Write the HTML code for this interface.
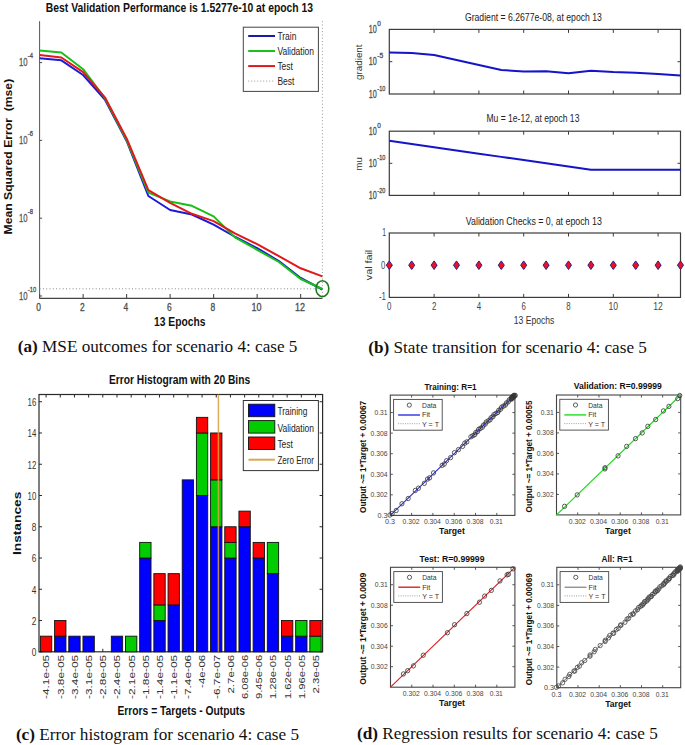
<!DOCTYPE html>
<html><head><meta charset="utf-8"><style>
html,body{margin:0;padding:0;background:#fff;}
body{width:685px;height:745px;overflow:hidden;}
svg{display:block;font-family:"Liberation Sans",sans-serif;}
</style></head><body>
<svg width="685" height="745" viewBox="0 0 685 745">
<rect width="685" height="745" fill="#fff"/>
<text x="45.8" y="12.1" font-size="13.4" fill="#111" font-weight="bold" textLength="267.3" lengthAdjust="spacingAndGlyphs">Best Validation Performance is 1.5277e-10 at epoch 13</text>
<line x1="39.6" y1="21.2" x2="39.6" y2="298.4" stroke="#555" stroke-width="1" />
<line x1="39.6" y1="298.4" x2="322.4" y2="298.4" stroke="#444" stroke-width="1.1" />
<line x1="39.6" y1="298.4" x2="39.6" y2="293.9" stroke="#4a4a4a" stroke-width="1.1" />
<line x1="83.11" y1="298.4" x2="83.11" y2="293.9" stroke="#4a4a4a" stroke-width="1.1" />
<line x1="126.62" y1="298.4" x2="126.62" y2="293.9" stroke="#4a4a4a" stroke-width="1.1" />
<line x1="170.12" y1="298.4" x2="170.12" y2="293.9" stroke="#4a4a4a" stroke-width="1.1" />
<line x1="213.63" y1="298.4" x2="213.63" y2="293.9" stroke="#4a4a4a" stroke-width="1.1" />
<line x1="257.14" y1="298.4" x2="257.14" y2="293.9" stroke="#4a4a4a" stroke-width="1.1" />
<line x1="300.65" y1="298.4" x2="300.65" y2="293.9" stroke="#4a4a4a" stroke-width="1.1" />
<line x1="39.6" y1="62.6" x2="42.1" y2="62.6" stroke="#4a4a4a" stroke-width="1" />
<line x1="39.6" y1="140.4" x2="42.1" y2="140.4" stroke="#4a4a4a" stroke-width="1" />
<line x1="39.6" y1="218.2" x2="42.1" y2="218.2" stroke="#4a4a4a" stroke-width="1" />
<line x1="39.6" y1="296" x2="42.1" y2="296" stroke="#4a4a4a" stroke-width="1" />
<text x="38.7" y="311.1" font-size="10.2" fill="#444" text-anchor="middle" textLength="4.7" lengthAdjust="spacingAndGlyphs" stroke="#555" stroke-width="0.3">0</text>
<text x="82.26" y="311.1" font-size="10.2" fill="#444" text-anchor="middle" textLength="4.7" lengthAdjust="spacingAndGlyphs" stroke="#555" stroke-width="0.3">2</text>
<text x="125.82" y="311.1" font-size="10.2" fill="#444" text-anchor="middle" textLength="4.7" lengthAdjust="spacingAndGlyphs" stroke="#555" stroke-width="0.3">4</text>
<text x="169.38" y="311.1" font-size="10.2" fill="#444" text-anchor="middle" textLength="4.7" lengthAdjust="spacingAndGlyphs" stroke="#555" stroke-width="0.3">6</text>
<text x="212.94" y="311.1" font-size="10.2" fill="#444" text-anchor="middle" textLength="4.7" lengthAdjust="spacingAndGlyphs" stroke="#555" stroke-width="0.3">8</text>
<text x="256.5" y="311.1" font-size="10.2" fill="#444" text-anchor="middle" textLength="10" lengthAdjust="spacingAndGlyphs" stroke="#555" stroke-width="0.3">10</text>
<text x="300.06" y="311.1" font-size="10.2" fill="#444" text-anchor="middle" textLength="10" lengthAdjust="spacingAndGlyphs" stroke="#555" stroke-width="0.3">12</text>
<text x="19" y="65.6" font-size="11.8" fill="#555" textLength="8.6" lengthAdjust="spacingAndGlyphs" stroke="#555" stroke-width="0.3">10</text>
<text x="27.8" y="57.6" font-size="7.2" fill="#444" textLength="5.2" lengthAdjust="spacingAndGlyphs" stroke="#555" stroke-width="0.3">-4</text>
<text x="19" y="143.7" font-size="11.8" fill="#555" textLength="8.6" lengthAdjust="spacingAndGlyphs" stroke="#555" stroke-width="0.3">10</text>
<text x="27.8" y="135.7" font-size="7.2" fill="#444" textLength="5.2" lengthAdjust="spacingAndGlyphs" stroke="#555" stroke-width="0.3">-6</text>
<text x="19" y="221.5" font-size="11.8" fill="#555" textLength="8.6" lengthAdjust="spacingAndGlyphs" stroke="#555" stroke-width="0.3">10</text>
<text x="27.8" y="213.5" font-size="7.2" fill="#444" textLength="5.2" lengthAdjust="spacingAndGlyphs" stroke="#555" stroke-width="0.3">-8</text>
<text x="19" y="299.9" font-size="11.8" fill="#555" textLength="8.6" lengthAdjust="spacingAndGlyphs" stroke="#555" stroke-width="0.3">10</text>
<text x="27.8" y="291.9" font-size="7.2" fill="#444" textLength="8.3" lengthAdjust="spacingAndGlyphs" stroke="#555" stroke-width="0.3">-10</text>
<text transform="translate(11.7 234.5) rotate(-90)" font-size="10.4" fill="#111" font-weight="bold" textLength="155.7" lengthAdjust="spacingAndGlyphs" style="white-space:pre">Mean Squared Error  (mse)</text>
<text x="154" y="325.9" font-size="12.2" fill="#111" font-weight="bold" textLength="51.4" lengthAdjust="spacingAndGlyphs">13 Epochs</text>
<line x1="39.6" y1="288.8" x2="322.4" y2="288.8" stroke="#888" stroke-width="1" stroke-dasharray="1 2.3"/>
<line x1="322.4" y1="21.2" x2="322.4" y2="298.4" stroke="#999" stroke-width="1" stroke-dasharray="1 2.3"/>
<polyline points="39.6,58.3 61.35,60.3 83.11,75 104.86,99.5 126.62,141 148.37,196 170.12,210 191.88,214.5 213.63,224.7 235.38,237 257.14,248.2 278.89,261 300.65,278 322.4,289.5" fill="none" stroke="#1a1ad8" stroke-width="2" stroke-linejoin="round" />
<polyline points="39.6,50.5 61.35,52.5 83.11,69.2 104.86,98 126.62,140 148.37,192.6 170.12,201.4 191.88,205.8 213.63,216.4 235.38,237.7 257.14,249.8 278.89,262 300.65,279 322.4,289" fill="none" stroke="#16c016" stroke-width="2" stroke-linejoin="round" />
<polyline points="39.6,55.1 61.35,57.5 83.11,72.1 104.86,97.3 126.62,138.5 148.37,190.1 170.12,202.8 191.88,213.8 213.63,221.1 235.38,233.7 257.14,244.2 278.89,256.2 300.65,268.3 322.4,276.4" fill="none" stroke="#e01a1a" stroke-width="2" stroke-linejoin="round" />
<ellipse cx="322.4" cy="288.7" rx="6.4" ry="8" fill="none" stroke="#1a7a1a" stroke-width="1.6"/>
<rect x="243.3" y="27.2" width="75.1" height="64.2" fill="#fff" stroke="#444" stroke-width="1" />
<line x1="248.2" y1="36" x2="275" y2="36" stroke="#1a1aa8" stroke-width="2" />
<text x="277.4" y="40.4" font-size="11.8" fill="#222" textLength="19" lengthAdjust="spacingAndGlyphs">Train</text>
<line x1="248.2" y1="51.03" x2="275" y2="51.03" stroke="#16c016" stroke-width="2" />
<text x="277.4" y="55.43" font-size="11.8" fill="#222" textLength="36.6" lengthAdjust="spacingAndGlyphs">Validation</text>
<line x1="248.2" y1="66.06" x2="275" y2="66.06" stroke="#e01a1a" stroke-width="2" />
<text x="277.4" y="70.46" font-size="11.8" fill="#222" textLength="15.5" lengthAdjust="spacingAndGlyphs">Test</text>
<line x1="248.2" y1="81.09" x2="275" y2="81.09" stroke="#999" stroke-width="1" stroke-dasharray="1 2"/>
<text x="277.4" y="85.49" font-size="11.8" fill="#222" textLength="17" lengthAdjust="spacingAndGlyphs">Best</text>
<rect x="389.3" y="29.4" width="291.2" height="64.6" fill="none" stroke="#3c3c3c" stroke-width="1.2" />
<line x1="434.1" y1="29.4" x2="434.1" y2="32.9" stroke="#3c3c3c" stroke-width="1" />
<line x1="434.1" y1="94" x2="434.1" y2="90.5" stroke="#3c3c3c" stroke-width="1" />
<line x1="478.9" y1="29.4" x2="478.9" y2="32.9" stroke="#3c3c3c" stroke-width="1" />
<line x1="478.9" y1="94" x2="478.9" y2="90.5" stroke="#3c3c3c" stroke-width="1" />
<line x1="523.7" y1="29.4" x2="523.7" y2="32.9" stroke="#3c3c3c" stroke-width="1" />
<line x1="523.7" y1="94" x2="523.7" y2="90.5" stroke="#3c3c3c" stroke-width="1" />
<line x1="568.5" y1="29.4" x2="568.5" y2="32.9" stroke="#3c3c3c" stroke-width="1" />
<line x1="568.5" y1="94" x2="568.5" y2="90.5" stroke="#3c3c3c" stroke-width="1" />
<line x1="613.3" y1="29.4" x2="613.3" y2="32.9" stroke="#3c3c3c" stroke-width="1" />
<line x1="613.3" y1="94" x2="613.3" y2="90.5" stroke="#3c3c3c" stroke-width="1" />
<line x1="658.1" y1="29.4" x2="658.1" y2="32.9" stroke="#3c3c3c" stroke-width="1" />
<line x1="658.1" y1="94" x2="658.1" y2="90.5" stroke="#3c3c3c" stroke-width="1" />
<line x1="389.3" y1="61.7" x2="392.3" y2="61.7" stroke="#3c3c3c" stroke-width="1" />
<line x1="680.5" y1="61.7" x2="677.5" y2="61.7" stroke="#3c3c3c" stroke-width="1" />
<rect x="389.3" y="131.2" width="291.2" height="64.2" fill="none" stroke="#3c3c3c" stroke-width="1.2" />
<line x1="434.1" y1="131.2" x2="434.1" y2="134.7" stroke="#3c3c3c" stroke-width="1" />
<line x1="434.1" y1="195.4" x2="434.1" y2="191.9" stroke="#3c3c3c" stroke-width="1" />
<line x1="478.9" y1="131.2" x2="478.9" y2="134.7" stroke="#3c3c3c" stroke-width="1" />
<line x1="478.9" y1="195.4" x2="478.9" y2="191.9" stroke="#3c3c3c" stroke-width="1" />
<line x1="523.7" y1="131.2" x2="523.7" y2="134.7" stroke="#3c3c3c" stroke-width="1" />
<line x1="523.7" y1="195.4" x2="523.7" y2="191.9" stroke="#3c3c3c" stroke-width="1" />
<line x1="568.5" y1="131.2" x2="568.5" y2="134.7" stroke="#3c3c3c" stroke-width="1" />
<line x1="568.5" y1="195.4" x2="568.5" y2="191.9" stroke="#3c3c3c" stroke-width="1" />
<line x1="613.3" y1="131.2" x2="613.3" y2="134.7" stroke="#3c3c3c" stroke-width="1" />
<line x1="613.3" y1="195.4" x2="613.3" y2="191.9" stroke="#3c3c3c" stroke-width="1" />
<line x1="658.1" y1="131.2" x2="658.1" y2="134.7" stroke="#3c3c3c" stroke-width="1" />
<line x1="658.1" y1="195.4" x2="658.1" y2="191.9" stroke="#3c3c3c" stroke-width="1" />
<line x1="389.3" y1="163.3" x2="392.3" y2="163.3" stroke="#3c3c3c" stroke-width="1" />
<line x1="680.5" y1="163.3" x2="677.5" y2="163.3" stroke="#3c3c3c" stroke-width="1" />
<rect x="389.3" y="233" width="291.2" height="64.4" fill="none" stroke="#3c3c3c" stroke-width="1.2" />
<line x1="434.1" y1="233" x2="434.1" y2="236.5" stroke="#3c3c3c" stroke-width="1" />
<line x1="434.1" y1="297.4" x2="434.1" y2="293.9" stroke="#3c3c3c" stroke-width="1" />
<line x1="478.9" y1="233" x2="478.9" y2="236.5" stroke="#3c3c3c" stroke-width="1" />
<line x1="478.9" y1="297.4" x2="478.9" y2="293.9" stroke="#3c3c3c" stroke-width="1" />
<line x1="523.7" y1="233" x2="523.7" y2="236.5" stroke="#3c3c3c" stroke-width="1" />
<line x1="523.7" y1="297.4" x2="523.7" y2="293.9" stroke="#3c3c3c" stroke-width="1" />
<line x1="568.5" y1="233" x2="568.5" y2="236.5" stroke="#3c3c3c" stroke-width="1" />
<line x1="568.5" y1="297.4" x2="568.5" y2="293.9" stroke="#3c3c3c" stroke-width="1" />
<line x1="613.3" y1="233" x2="613.3" y2="236.5" stroke="#3c3c3c" stroke-width="1" />
<line x1="613.3" y1="297.4" x2="613.3" y2="293.9" stroke="#3c3c3c" stroke-width="1" />
<line x1="658.1" y1="233" x2="658.1" y2="236.5" stroke="#3c3c3c" stroke-width="1" />
<line x1="658.1" y1="297.4" x2="658.1" y2="293.9" stroke="#3c3c3c" stroke-width="1" />
<line x1="389.3" y1="265.2" x2="392.3" y2="265.2" stroke="#3c3c3c" stroke-width="1" />
<line x1="680.5" y1="265.2" x2="677.5" y2="265.2" stroke="#3c3c3c" stroke-width="1" />
<text x="464.9" y="21.1" font-size="11.6" fill="#222" textLength="137" lengthAdjust="spacingAndGlyphs">Gradient = 6.2677e-08, at epoch 13</text>
<text x="486.4" y="122.3" font-size="11.6" fill="#222" textLength="93" lengthAdjust="spacingAndGlyphs">Mu = 1e-12, at epoch 13</text>
<text x="465.8" y="224.8" font-size="11.6" fill="#222" textLength="136" lengthAdjust="spacingAndGlyphs">Validation Checks = 0, at epoch 13</text>
<text x="368.8" y="32.8" font-size="10.4" fill="#444" textLength="8" lengthAdjust="spacingAndGlyphs" stroke="#555" stroke-width="0.3">10</text>
<text x="377.3" y="26" font-size="7.4" fill="#444" textLength="3.6" lengthAdjust="spacingAndGlyphs" stroke="#555" stroke-width="0.3">0</text>
<text x="368.8" y="65" font-size="10.4" fill="#444" textLength="8" lengthAdjust="spacingAndGlyphs" stroke="#555" stroke-width="0.3">10</text>
<text x="377.3" y="58.2" font-size="7.4" fill="#444" textLength="6" lengthAdjust="spacingAndGlyphs" stroke="#555" stroke-width="0.3">-5</text>
<text x="368.8" y="97.8" font-size="10.4" fill="#444" textLength="8" lengthAdjust="spacingAndGlyphs" stroke="#555" stroke-width="0.3">10</text>
<text x="377.3" y="91" font-size="7.4" fill="#444" textLength="8" lengthAdjust="spacingAndGlyphs" stroke="#555" stroke-width="0.3">-10</text>
<text x="368.8" y="134.5" font-size="10.4" fill="#444" textLength="8" lengthAdjust="spacingAndGlyphs" stroke="#555" stroke-width="0.3">10</text>
<text x="377.3" y="127.7" font-size="7.4" fill="#444" textLength="3.6" lengthAdjust="spacingAndGlyphs" stroke="#555" stroke-width="0.3">0</text>
<text x="368.8" y="167.2" font-size="10.4" fill="#444" textLength="8" lengthAdjust="spacingAndGlyphs" stroke="#555" stroke-width="0.3">10</text>
<text x="377.3" y="160.4" font-size="7.4" fill="#444" textLength="8" lengthAdjust="spacingAndGlyphs" stroke="#555" stroke-width="0.3">-10</text>
<text x="368.8" y="199.4" font-size="10.4" fill="#444" textLength="8" lengthAdjust="spacingAndGlyphs" stroke="#555" stroke-width="0.3">10</text>
<text x="377.3" y="192.6" font-size="7.4" fill="#444" textLength="8" lengthAdjust="spacingAndGlyphs" stroke="#555" stroke-width="0.3">-20</text>
<text transform="translate(361.5 79.9) rotate(-90)" font-size="8.6" fill="#333" textLength="35.4" lengthAdjust="spacingAndGlyphs">gradient</text>
<text transform="translate(361.5 170.7) rotate(-90)" font-size="8.6" fill="#333" textLength="13.5" lengthAdjust="spacingAndGlyphs">mu</text>
<text transform="translate(371.8 280.2) rotate(-90)" font-size="8.6" fill="#333" textLength="30.4" lengthAdjust="spacingAndGlyphs">val fail</text>
<text x="386" y="236.3" font-size="10.2" fill="#444" text-anchor="end" textLength="3.8" lengthAdjust="spacingAndGlyphs">1</text>
<text x="385.4" y="268.5" font-size="10.2" fill="#444" text-anchor="end" textLength="4.3" lengthAdjust="spacingAndGlyphs">0</text>
<text x="386" y="300.1" font-size="10.2" fill="#444" text-anchor="end" textLength="7" lengthAdjust="spacingAndGlyphs">-1</text>
<text x="389.3" y="310.3" font-size="10.4" fill="#444" text-anchor="middle" textLength="4.4" lengthAdjust="spacingAndGlyphs">0</text>
<text x="434.1" y="310.3" font-size="10.4" fill="#444" text-anchor="middle" textLength="4.4" lengthAdjust="spacingAndGlyphs">2</text>
<text x="478.9" y="310.3" font-size="10.4" fill="#444" text-anchor="middle" textLength="4.4" lengthAdjust="spacingAndGlyphs">4</text>
<text x="523.7" y="310.3" font-size="10.4" fill="#444" text-anchor="middle" textLength="4.4" lengthAdjust="spacingAndGlyphs">6</text>
<text x="568.5" y="310.3" font-size="10.4" fill="#444" text-anchor="middle" textLength="4.4" lengthAdjust="spacingAndGlyphs">8</text>
<text x="613.3" y="310.3" font-size="10.4" fill="#444" text-anchor="middle" textLength="9.6" lengthAdjust="spacingAndGlyphs">10</text>
<text x="658.1" y="310.3" font-size="10.4" fill="#444" text-anchor="middle" textLength="9.6" lengthAdjust="spacingAndGlyphs">12</text>
<text x="513.8" y="323.6" font-size="10.2" fill="#333" textLength="40.5" lengthAdjust="spacingAndGlyphs">13 Epochs</text>
<polyline points="389.3,52.4 411.7,52.9 434.1,55.1 456.5,60 478.9,65 501.3,70 523.7,71.5 546.1,71.2 568.5,73.2 590.9,70.7 613.3,72 635.7,72.7 658.1,74 680.5,75.5" fill="none" stroke="#1414c8" stroke-width="2" stroke-linejoin="round" />
<polyline points="389.3,140.83 411.7,144.04 434.1,147.25 456.5,150.46 478.9,153.67 501.3,156.88 523.7,160.09 546.1,163.3 568.5,166.51 590.9,169.72 613.3,169.72 635.7,169.72 658.1,169.72 680.5,169.72" fill="none" stroke="#1414c8" stroke-width="2" stroke-linejoin="round" />
<path d="M389.3 260.9L392.3 265.2L389.3 269.5L386.3 265.2Z" fill="#ee1020" stroke="#3a1878" stroke-width="1"/>
<path d="M411.7 260.9L414.7 265.2L411.7 269.5L408.7 265.2Z" fill="#ee1020" stroke="#3a1878" stroke-width="1"/>
<path d="M434.1 260.9L437.1 265.2L434.1 269.5L431.1 265.2Z" fill="#ee1020" stroke="#3a1878" stroke-width="1"/>
<path d="M456.5 260.9L459.5 265.2L456.5 269.5L453.5 265.2Z" fill="#ee1020" stroke="#3a1878" stroke-width="1"/>
<path d="M478.9 260.9L481.9 265.2L478.9 269.5L475.9 265.2Z" fill="#ee1020" stroke="#3a1878" stroke-width="1"/>
<path d="M501.3 260.9L504.3 265.2L501.3 269.5L498.3 265.2Z" fill="#ee1020" stroke="#3a1878" stroke-width="1"/>
<path d="M523.7 260.9L526.7 265.2L523.7 269.5L520.7 265.2Z" fill="#ee1020" stroke="#3a1878" stroke-width="1"/>
<path d="M546.1 260.9L549.1 265.2L546.1 269.5L543.1 265.2Z" fill="#ee1020" stroke="#3a1878" stroke-width="1"/>
<path d="M568.5 260.9L571.5 265.2L568.5 269.5L565.5 265.2Z" fill="#ee1020" stroke="#3a1878" stroke-width="1"/>
<path d="M590.9 260.9L593.9 265.2L590.9 269.5L587.9 265.2Z" fill="#ee1020" stroke="#3a1878" stroke-width="1"/>
<path d="M613.3 260.9L616.3 265.2L613.3 269.5L610.3 265.2Z" fill="#ee1020" stroke="#3a1878" stroke-width="1"/>
<path d="M635.7 260.9L638.7 265.2L635.7 269.5L632.7 265.2Z" fill="#ee1020" stroke="#3a1878" stroke-width="1"/>
<path d="M658.1 260.9L661.1 265.2L658.1 269.5L655.1 265.2Z" fill="#ee1020" stroke="#3a1878" stroke-width="1"/>
<path d="M680.5 260.9L683.5 265.2L680.5 269.5L677.5 265.2Z" fill="#ee1020" stroke="#3a1878" stroke-width="1"/>
<rect x="39" y="394.5" width="283.6" height="257.3" fill="none" stroke="#2a2a2a" stroke-width="1.2" />
<text x="108.9" y="383.7" font-size="13" fill="#111" font-weight="bold" textLength="141.3" lengthAdjust="spacingAndGlyphs">Error Histogram with 20 Bins</text>
<line x1="46.09" y1="394.5" x2="46.09" y2="397.5" stroke="#2a2a2a" stroke-width="1" />
<line x1="46.09" y1="651.8" x2="46.09" y2="648.8" stroke="#2a2a2a" stroke-width="1" />
<line x1="60.27" y1="394.5" x2="60.27" y2="397.5" stroke="#2a2a2a" stroke-width="1" />
<line x1="60.27" y1="651.8" x2="60.27" y2="648.8" stroke="#2a2a2a" stroke-width="1" />
<line x1="74.45" y1="394.5" x2="74.45" y2="397.5" stroke="#2a2a2a" stroke-width="1" />
<line x1="74.45" y1="651.8" x2="74.45" y2="648.8" stroke="#2a2a2a" stroke-width="1" />
<line x1="88.63" y1="394.5" x2="88.63" y2="397.5" stroke="#2a2a2a" stroke-width="1" />
<line x1="88.63" y1="651.8" x2="88.63" y2="648.8" stroke="#2a2a2a" stroke-width="1" />
<line x1="102.81" y1="394.5" x2="102.81" y2="397.5" stroke="#2a2a2a" stroke-width="1" />
<line x1="102.81" y1="651.8" x2="102.81" y2="648.8" stroke="#2a2a2a" stroke-width="1" />
<line x1="116.99" y1="394.5" x2="116.99" y2="397.5" stroke="#2a2a2a" stroke-width="1" />
<line x1="116.99" y1="651.8" x2="116.99" y2="648.8" stroke="#2a2a2a" stroke-width="1" />
<line x1="131.17" y1="394.5" x2="131.17" y2="397.5" stroke="#2a2a2a" stroke-width="1" />
<line x1="131.17" y1="651.8" x2="131.17" y2="648.8" stroke="#2a2a2a" stroke-width="1" />
<line x1="145.35" y1="394.5" x2="145.35" y2="397.5" stroke="#2a2a2a" stroke-width="1" />
<line x1="145.35" y1="651.8" x2="145.35" y2="648.8" stroke="#2a2a2a" stroke-width="1" />
<line x1="159.53" y1="394.5" x2="159.53" y2="397.5" stroke="#2a2a2a" stroke-width="1" />
<line x1="159.53" y1="651.8" x2="159.53" y2="648.8" stroke="#2a2a2a" stroke-width="1" />
<line x1="173.71" y1="394.5" x2="173.71" y2="397.5" stroke="#2a2a2a" stroke-width="1" />
<line x1="173.71" y1="651.8" x2="173.71" y2="648.8" stroke="#2a2a2a" stroke-width="1" />
<line x1="187.89" y1="394.5" x2="187.89" y2="397.5" stroke="#2a2a2a" stroke-width="1" />
<line x1="187.89" y1="651.8" x2="187.89" y2="648.8" stroke="#2a2a2a" stroke-width="1" />
<line x1="202.07" y1="394.5" x2="202.07" y2="397.5" stroke="#2a2a2a" stroke-width="1" />
<line x1="202.07" y1="651.8" x2="202.07" y2="648.8" stroke="#2a2a2a" stroke-width="1" />
<line x1="216.25" y1="394.5" x2="216.25" y2="397.5" stroke="#2a2a2a" stroke-width="1" />
<line x1="216.25" y1="651.8" x2="216.25" y2="648.8" stroke="#2a2a2a" stroke-width="1" />
<line x1="230.43" y1="394.5" x2="230.43" y2="397.5" stroke="#2a2a2a" stroke-width="1" />
<line x1="230.43" y1="651.8" x2="230.43" y2="648.8" stroke="#2a2a2a" stroke-width="1" />
<line x1="244.61" y1="394.5" x2="244.61" y2="397.5" stroke="#2a2a2a" stroke-width="1" />
<line x1="244.61" y1="651.8" x2="244.61" y2="648.8" stroke="#2a2a2a" stroke-width="1" />
<line x1="258.79" y1="394.5" x2="258.79" y2="397.5" stroke="#2a2a2a" stroke-width="1" />
<line x1="258.79" y1="651.8" x2="258.79" y2="648.8" stroke="#2a2a2a" stroke-width="1" />
<line x1="272.97" y1="394.5" x2="272.97" y2="397.5" stroke="#2a2a2a" stroke-width="1" />
<line x1="272.97" y1="651.8" x2="272.97" y2="648.8" stroke="#2a2a2a" stroke-width="1" />
<line x1="287.15" y1="394.5" x2="287.15" y2="397.5" stroke="#2a2a2a" stroke-width="1" />
<line x1="287.15" y1="651.8" x2="287.15" y2="648.8" stroke="#2a2a2a" stroke-width="1" />
<line x1="301.33" y1="394.5" x2="301.33" y2="397.5" stroke="#2a2a2a" stroke-width="1" />
<line x1="301.33" y1="651.8" x2="301.33" y2="648.8" stroke="#2a2a2a" stroke-width="1" />
<line x1="315.51" y1="394.5" x2="315.51" y2="397.5" stroke="#2a2a2a" stroke-width="1" />
<line x1="315.51" y1="651.8" x2="315.51" y2="648.8" stroke="#2a2a2a" stroke-width="1" />
<line x1="39" y1="651.8" x2="42" y2="651.8" stroke="#2a2a2a" stroke-width="1" />
<line x1="322.6" y1="651.8" x2="319.6" y2="651.8" stroke="#2a2a2a" stroke-width="1" />
<text x="36.3" y="656.1" font-size="11.8" fill="#333" text-anchor="end" textLength="4.6" lengthAdjust="spacingAndGlyphs">0</text>
<line x1="39" y1="620.54" x2="42" y2="620.54" stroke="#2a2a2a" stroke-width="1" />
<line x1="322.6" y1="620.54" x2="319.6" y2="620.54" stroke="#2a2a2a" stroke-width="1" />
<text x="36.3" y="624.84" font-size="11.8" fill="#333" text-anchor="end" textLength="4.6" lengthAdjust="spacingAndGlyphs">2</text>
<line x1="39" y1="589.28" x2="42" y2="589.28" stroke="#2a2a2a" stroke-width="1" />
<line x1="322.6" y1="589.28" x2="319.6" y2="589.28" stroke="#2a2a2a" stroke-width="1" />
<text x="36.3" y="593.58" font-size="11.8" fill="#333" text-anchor="end" textLength="4.6" lengthAdjust="spacingAndGlyphs">4</text>
<line x1="39" y1="558.02" x2="42" y2="558.02" stroke="#2a2a2a" stroke-width="1" />
<line x1="322.6" y1="558.02" x2="319.6" y2="558.02" stroke="#2a2a2a" stroke-width="1" />
<text x="36.3" y="562.32" font-size="11.8" fill="#333" text-anchor="end" textLength="4.6" lengthAdjust="spacingAndGlyphs">6</text>
<line x1="39" y1="526.76" x2="42" y2="526.76" stroke="#2a2a2a" stroke-width="1" />
<line x1="322.6" y1="526.76" x2="319.6" y2="526.76" stroke="#2a2a2a" stroke-width="1" />
<text x="36.3" y="531.06" font-size="11.8" fill="#333" text-anchor="end" textLength="4.6" lengthAdjust="spacingAndGlyphs">8</text>
<line x1="39" y1="495.5" x2="42" y2="495.5" stroke="#2a2a2a" stroke-width="1" />
<line x1="322.6" y1="495.5" x2="319.6" y2="495.5" stroke="#2a2a2a" stroke-width="1" />
<text x="36.3" y="499.8" font-size="11.8" fill="#333" text-anchor="end" textLength="8.7" lengthAdjust="spacingAndGlyphs">10</text>
<line x1="39" y1="464.24" x2="42" y2="464.24" stroke="#2a2a2a" stroke-width="1" />
<line x1="322.6" y1="464.24" x2="319.6" y2="464.24" stroke="#2a2a2a" stroke-width="1" />
<text x="36.3" y="468.54" font-size="11.8" fill="#333" text-anchor="end" textLength="8.7" lengthAdjust="spacingAndGlyphs">12</text>
<line x1="39" y1="432.98" x2="42" y2="432.98" stroke="#2a2a2a" stroke-width="1" />
<line x1="322.6" y1="432.98" x2="319.6" y2="432.98" stroke="#2a2a2a" stroke-width="1" />
<text x="36.3" y="437.28" font-size="11.8" fill="#333" text-anchor="end" textLength="8.7" lengthAdjust="spacingAndGlyphs">14</text>
<line x1="39" y1="401.72" x2="42" y2="401.72" stroke="#2a2a2a" stroke-width="1" />
<line x1="322.6" y1="401.72" x2="319.6" y2="401.72" stroke="#2a2a2a" stroke-width="1" />
<text x="36.3" y="406.02" font-size="11.8" fill="#333" text-anchor="end" textLength="8.7" lengthAdjust="spacingAndGlyphs">16</text>
<rect x="40.42" y="636.17" width="11.34" height="15.63" fill="#ff0000" stroke="#111" stroke-width="0.9" />
<rect x="54.6" y="636.17" width="11.34" height="15.63" fill="#0000ff" stroke="#111" stroke-width="0.9" />
<rect x="54.6" y="620.54" width="11.34" height="15.63" fill="#ff0000" stroke="#111" stroke-width="0.9" />
<rect x="68.78" y="636.17" width="11.34" height="15.63" fill="#0000ff" stroke="#111" stroke-width="0.9" />
<rect x="82.96" y="636.17" width="11.34" height="15.63" fill="#0000ff" stroke="#111" stroke-width="0.9" />
<rect x="111.32" y="636.17" width="11.34" height="15.63" fill="#0000ff" stroke="#111" stroke-width="0.9" />
<rect x="125.5" y="636.17" width="11.34" height="15.63" fill="#00cc00" stroke="#111" stroke-width="0.9" />
<rect x="139.68" y="558.02" width="11.34" height="93.78" fill="#0000ff" stroke="#111" stroke-width="0.9" />
<rect x="139.68" y="542.39" width="11.34" height="15.63" fill="#00cc00" stroke="#111" stroke-width="0.9" />
<rect x="153.86" y="620.54" width="11.34" height="31.26" fill="#0000ff" stroke="#111" stroke-width="0.9" />
<rect x="153.86" y="604.91" width="11.34" height="15.63" fill="#00cc00" stroke="#111" stroke-width="0.9" />
<rect x="153.86" y="573.65" width="11.34" height="31.26" fill="#ff0000" stroke="#111" stroke-width="0.9" />
<rect x="168.04" y="604.91" width="11.34" height="46.89" fill="#0000ff" stroke="#111" stroke-width="0.9" />
<rect x="168.04" y="573.65" width="11.34" height="31.26" fill="#ff0000" stroke="#111" stroke-width="0.9" />
<rect x="182.22" y="479.87" width="11.34" height="171.93" fill="#0000ff" stroke="#111" stroke-width="0.9" />
<rect x="196.4" y="495.5" width="11.34" height="156.3" fill="#0000ff" stroke="#111" stroke-width="0.9" />
<rect x="196.4" y="432.98" width="11.34" height="62.52" fill="#00cc00" stroke="#111" stroke-width="0.9" />
<rect x="196.4" y="417.35" width="11.34" height="15.63" fill="#ff0000" stroke="#111" stroke-width="0.9" />
<rect x="210.58" y="526.76" width="11.34" height="125.04" fill="#0000ff" stroke="#111" stroke-width="0.9" />
<rect x="210.58" y="479.87" width="11.34" height="46.89" fill="#00cc00" stroke="#111" stroke-width="0.9" />
<rect x="210.58" y="432.98" width="11.34" height="46.89" fill="#ff0000" stroke="#111" stroke-width="0.9" />
<rect x="224.76" y="558.02" width="11.34" height="93.78" fill="#0000ff" stroke="#111" stroke-width="0.9" />
<rect x="224.76" y="542.39" width="11.34" height="15.63" fill="#00cc00" stroke="#111" stroke-width="0.9" />
<rect x="224.76" y="526.76" width="11.34" height="15.63" fill="#ff0000" stroke="#111" stroke-width="0.9" />
<rect x="238.94" y="526.76" width="11.34" height="125.04" fill="#0000ff" stroke="#111" stroke-width="0.9" />
<rect x="238.94" y="511.13" width="11.34" height="15.63" fill="#ff0000" stroke="#111" stroke-width="0.9" />
<rect x="253.12" y="558.02" width="11.34" height="93.78" fill="#0000ff" stroke="#111" stroke-width="0.9" />
<rect x="253.12" y="542.39" width="11.34" height="15.63" fill="#ff0000" stroke="#111" stroke-width="0.9" />
<rect x="267.3" y="573.65" width="11.34" height="78.15" fill="#0000ff" stroke="#111" stroke-width="0.9" />
<rect x="267.3" y="542.39" width="11.34" height="31.26" fill="#00cc00" stroke="#111" stroke-width="0.9" />
<rect x="281.48" y="636.17" width="11.34" height="15.63" fill="#0000ff" stroke="#111" stroke-width="0.9" />
<rect x="281.48" y="620.54" width="11.34" height="15.63" fill="#ff0000" stroke="#111" stroke-width="0.9" />
<rect x="295.66" y="636.17" width="11.34" height="15.63" fill="#0000ff" stroke="#111" stroke-width="0.9" />
<rect x="295.66" y="620.54" width="11.34" height="15.63" fill="#00cc00" stroke="#111" stroke-width="0.9" />
<rect x="309.84" y="636.17" width="11.34" height="15.63" fill="#00cc00" stroke="#111" stroke-width="0.9" />
<rect x="309.84" y="620.54" width="11.34" height="15.63" fill="#ff0000" stroke="#111" stroke-width="0.9" />
<line x1="218.4" y1="394.5" x2="218.4" y2="651.8" stroke="#dba040" stroke-width="1.5" stroke-opacity="0.85"/>
<text transform="translate(49.49 654.8) rotate(-90)" font-size="9.6" fill="#333" text-anchor="end" textLength="44.2" lengthAdjust="spacingAndGlyphs">-4.1e-05</text>
<text transform="translate(63.67 654.8) rotate(-90)" font-size="9.6" fill="#333" text-anchor="end" textLength="44.2" lengthAdjust="spacingAndGlyphs">-3.8e-05</text>
<text transform="translate(77.85 654.8) rotate(-90)" font-size="9.6" fill="#333" text-anchor="end" textLength="44.2" lengthAdjust="spacingAndGlyphs">-3.4e-05</text>
<text transform="translate(92.03 654.8) rotate(-90)" font-size="9.6" fill="#333" text-anchor="end" textLength="44.2" lengthAdjust="spacingAndGlyphs">-3.1e-05</text>
<text transform="translate(106.21 654.8) rotate(-90)" font-size="9.6" fill="#333" text-anchor="end" textLength="44.2" lengthAdjust="spacingAndGlyphs">-2.8e-05</text>
<text transform="translate(120.39 654.8) rotate(-90)" font-size="9.6" fill="#333" text-anchor="end" textLength="44.2" lengthAdjust="spacingAndGlyphs">-2.4e-05</text>
<text transform="translate(134.57 654.8) rotate(-90)" font-size="9.6" fill="#333" text-anchor="end" textLength="44.2" lengthAdjust="spacingAndGlyphs">-2.1e-05</text>
<text transform="translate(148.75 654.8) rotate(-90)" font-size="9.6" fill="#333" text-anchor="end" textLength="44.2" lengthAdjust="spacingAndGlyphs">-1.8e-05</text>
<text transform="translate(162.93 654.8) rotate(-90)" font-size="9.6" fill="#333" text-anchor="end" textLength="44.2" lengthAdjust="spacingAndGlyphs">-1.4e-05</text>
<text transform="translate(177.11 654.8) rotate(-90)" font-size="9.6" fill="#333" text-anchor="end" textLength="44.2" lengthAdjust="spacingAndGlyphs">-1.1e-05</text>
<text transform="translate(191.29 654.8) rotate(-90)" font-size="9.6" fill="#333" text-anchor="end" textLength="44.2" lengthAdjust="spacingAndGlyphs">-7.4e-06</text>
<text transform="translate(205.47 654.8) rotate(-90)" font-size="9.6" fill="#333" text-anchor="end" textLength="33.15" lengthAdjust="spacingAndGlyphs">-4e-06</text>
<text transform="translate(219.65 654.8) rotate(-90)" font-size="9.6" fill="#333" text-anchor="end" textLength="44.2" lengthAdjust="spacingAndGlyphs">-6.7e-07</text>
<text transform="translate(233.83 654.8) rotate(-90)" font-size="9.6" fill="#333" text-anchor="end" textLength="38.68" lengthAdjust="spacingAndGlyphs">2.7e-06</text>
<text transform="translate(248.01 654.8) rotate(-90)" font-size="9.6" fill="#333" text-anchor="end" textLength="44.2" lengthAdjust="spacingAndGlyphs">6.08e-06</text>
<text transform="translate(262.19 654.8) rotate(-90)" font-size="9.6" fill="#333" text-anchor="end" textLength="44.2" lengthAdjust="spacingAndGlyphs">9.45e-06</text>
<text transform="translate(276.37 654.8) rotate(-90)" font-size="9.6" fill="#333" text-anchor="end" textLength="44.2" lengthAdjust="spacingAndGlyphs">1.28e-05</text>
<text transform="translate(290.55 654.8) rotate(-90)" font-size="9.6" fill="#333" text-anchor="end" textLength="44.2" lengthAdjust="spacingAndGlyphs">1.62e-05</text>
<text transform="translate(304.73 654.8) rotate(-90)" font-size="9.6" fill="#333" text-anchor="end" textLength="44.2" lengthAdjust="spacingAndGlyphs">1.96e-05</text>
<text transform="translate(318.91 654.8) rotate(-90)" font-size="9.6" fill="#333" text-anchor="end" textLength="38.68" lengthAdjust="spacingAndGlyphs">2.3e-05</text>
<text transform="translate(20.9 555.1) rotate(-90)" font-size="10.2" fill="#111" font-weight="bold" textLength="63.5" lengthAdjust="spacingAndGlyphs">Instances</text>
<text x="117.5" y="715" font-size="12" fill="#111" font-weight="bold" textLength="127.4" lengthAdjust="spacingAndGlyphs">Errors = Targets - Outputs</text>
<rect x="243.3" y="400.5" width="75.1" height="70.1" fill="#fff" stroke="#333" stroke-width="1" />
<rect x="248.5" y="404.2" width="26.3" height="12.5" fill="#0000ff" stroke="#111" stroke-width="0.9" />
<text x="277.4" y="415.4" font-size="11.6" fill="#222" textLength="30" lengthAdjust="spacingAndGlyphs">Training</text>
<rect x="248.5" y="420.6" width="26.3" height="12.5" fill="#00cc00" stroke="#111" stroke-width="0.9" />
<text x="277.4" y="431.8" font-size="11.6" fill="#222" textLength="36.6" lengthAdjust="spacingAndGlyphs">Validation</text>
<rect x="248.5" y="437" width="26.3" height="12.5" fill="#ff0000" stroke="#111" stroke-width="0.9" />
<text x="277.4" y="448.2" font-size="11.6" fill="#222" textLength="15.5" lengthAdjust="spacingAndGlyphs">Test</text>
<line x1="248.5" y1="459.7" x2="274.8" y2="459.7" stroke="#dba650" stroke-width="2" />
<text x="277.4" y="463.9" font-size="11.6" fill="#222" textLength="36.6" lengthAdjust="spacingAndGlyphs">Zero Error</text>
<rect x="390.3" y="395.1" width="124.6" height="120.3" fill="none" stroke="#444" stroke-width="1.1" />
<line x1="411.6" y1="515.4" x2="411.6" y2="512.9" stroke="#444" stroke-width="0.9" />
<line x1="411.6" y1="395.1" x2="411.6" y2="397.6" stroke="#444" stroke-width="0.9" />
<line x1="390.3" y1="494.84" x2="392.8" y2="494.84" stroke="#444" stroke-width="0.9" />
<line x1="514.9" y1="494.84" x2="512.4" y2="494.84" stroke="#444" stroke-width="0.9" />
<line x1="432.9" y1="515.4" x2="432.9" y2="512.9" stroke="#444" stroke-width="0.9" />
<line x1="432.9" y1="395.1" x2="432.9" y2="397.6" stroke="#444" stroke-width="0.9" />
<line x1="390.3" y1="474.27" x2="392.8" y2="474.27" stroke="#444" stroke-width="0.9" />
<line x1="514.9" y1="474.27" x2="512.4" y2="474.27" stroke="#444" stroke-width="0.9" />
<line x1="454.2" y1="515.4" x2="454.2" y2="512.9" stroke="#444" stroke-width="0.9" />
<line x1="454.2" y1="395.1" x2="454.2" y2="397.6" stroke="#444" stroke-width="0.9" />
<line x1="390.3" y1="453.71" x2="392.8" y2="453.71" stroke="#444" stroke-width="0.9" />
<line x1="514.9" y1="453.71" x2="512.4" y2="453.71" stroke="#444" stroke-width="0.9" />
<line x1="475.5" y1="515.4" x2="475.5" y2="512.9" stroke="#444" stroke-width="0.9" />
<line x1="475.5" y1="395.1" x2="475.5" y2="397.6" stroke="#444" stroke-width="0.9" />
<line x1="390.3" y1="433.14" x2="392.8" y2="433.14" stroke="#444" stroke-width="0.9" />
<line x1="514.9" y1="433.14" x2="512.4" y2="433.14" stroke="#444" stroke-width="0.9" />
<line x1="496.8" y1="515.4" x2="496.8" y2="512.9" stroke="#444" stroke-width="0.9" />
<line x1="496.8" y1="395.1" x2="496.8" y2="397.6" stroke="#444" stroke-width="0.9" />
<line x1="390.3" y1="412.58" x2="392.8" y2="412.58" stroke="#444" stroke-width="0.9" />
<line x1="514.9" y1="412.58" x2="512.4" y2="412.58" stroke="#444" stroke-width="0.9" />
<text x="387.5" y="497.24" font-size="7.2" fill="#444" text-anchor="end" textLength="17" lengthAdjust="spacingAndGlyphs">0.302</text>
<text x="411.1" y="524.4" font-size="7.2" fill="#444" text-anchor="middle" textLength="17" lengthAdjust="spacingAndGlyphs">0.302</text>
<text x="387.5" y="476.67" font-size="7.2" fill="#444" text-anchor="end" textLength="17" lengthAdjust="spacingAndGlyphs">0.304</text>
<text x="432.4" y="524.4" font-size="7.2" fill="#444" text-anchor="middle" textLength="17" lengthAdjust="spacingAndGlyphs">0.304</text>
<text x="387.5" y="456.11" font-size="7.2" fill="#444" text-anchor="end" textLength="17" lengthAdjust="spacingAndGlyphs">0.306</text>
<text x="453.7" y="524.4" font-size="7.2" fill="#444" text-anchor="middle" textLength="17" lengthAdjust="spacingAndGlyphs">0.306</text>
<text x="387.5" y="435.54" font-size="7.2" fill="#444" text-anchor="end" textLength="17" lengthAdjust="spacingAndGlyphs">0.308</text>
<text x="475" y="524.4" font-size="7.2" fill="#444" text-anchor="middle" textLength="17" lengthAdjust="spacingAndGlyphs">0.308</text>
<text x="387.5" y="414.98" font-size="7.2" fill="#444" text-anchor="end" textLength="13" lengthAdjust="spacingAndGlyphs">0.31</text>
<text x="496.3" y="524.4" font-size="7.2" fill="#444" text-anchor="middle" textLength="13" lengthAdjust="spacingAndGlyphs">0.31</text>
<text x="387.5" y="517.8" font-size="7.2" fill="#444" text-anchor="end" textLength="10" lengthAdjust="spacingAndGlyphs">0.3</text>
<text x="390" y="524.4" font-size="7.2" fill="#444" text-anchor="middle" textLength="10" lengthAdjust="spacingAndGlyphs">0.3</text>
<line x1="390.3" y1="515.4" x2="514.9" y2="395.1" stroke="#888" stroke-width="0.8" stroke-dasharray="1 1.5"/>
<line x1="390.3" y1="515.4" x2="514.9" y2="395.1" stroke="#3030e0" stroke-width="1.1" />
<ellipse cx="389.9" cy="515" rx="2.1" ry="2.2" fill="none" stroke="#333" stroke-width="0.8"/>
<ellipse cx="392.17" cy="513.6" rx="2.1" ry="2.2" fill="none" stroke="#333" stroke-width="0.8"/>
<ellipse cx="396.18" cy="510.51" rx="2.1" ry="2.2" fill="none" stroke="#333" stroke-width="0.8"/>
<ellipse cx="401.94" cy="503.77" rx="2.1" ry="2.2" fill="none" stroke="#333" stroke-width="0.8"/>
<ellipse cx="408.19" cy="498.52" rx="2.1" ry="2.2" fill="none" stroke="#333" stroke-width="0.8"/>
<ellipse cx="415.32" cy="490.46" rx="2.1" ry="2.2" fill="none" stroke="#333" stroke-width="0.8"/>
<ellipse cx="418.46" cy="488.21" rx="2.1" ry="2.2" fill="none" stroke="#333" stroke-width="0.8"/>
<ellipse cx="424.34" cy="483.32" rx="2.1" ry="2.2" fill="none" stroke="#333" stroke-width="0.8"/>
<ellipse cx="427.48" cy="479.11" rx="2.1" ry="2.2" fill="none" stroke="#333" stroke-width="0.8"/>
<ellipse cx="429.62" cy="477.83" rx="2.1" ry="2.2" fill="none" stroke="#333" stroke-width="0.8"/>
<ellipse cx="433.51" cy="472.9" rx="2.1" ry="2.2" fill="none" stroke="#333" stroke-width="0.8"/>
<ellipse cx="442.13" cy="465.36" rx="2.1" ry="2.2" fill="none" stroke="#333" stroke-width="0.8"/>
<ellipse cx="444.28" cy="464.07" rx="2.1" ry="2.2" fill="none" stroke="#333" stroke-width="0.8"/>
<ellipse cx="446.54" cy="460.7" rx="2.1" ry="2.2" fill="none" stroke="#333" stroke-width="0.8"/>
<ellipse cx="450.56" cy="457.62" rx="2.1" ry="2.2" fill="none" stroke="#333" stroke-width="0.8"/>
<ellipse cx="454.44" cy="452.68" rx="2.1" ry="2.2" fill="none" stroke="#333" stroke-width="0.8"/>
<ellipse cx="458.46" cy="449.6" rx="2.1" ry="2.2" fill="none" stroke="#333" stroke-width="0.8"/>
<ellipse cx="462.59" cy="446.39" rx="2.1" ry="2.2" fill="none" stroke="#333" stroke-width="0.8"/>
<ellipse cx="464.74" cy="443.14" rx="2.1" ry="2.2" fill="none" stroke="#333" stroke-width="0.8"/>
<ellipse cx="466.88" cy="441.86" rx="2.1" ry="2.2" fill="none" stroke="#333" stroke-width="0.8"/>
<ellipse cx="470.89" cy="436.81" rx="2.1" ry="2.2" fill="none" stroke="#333" stroke-width="0.8"/>
<ellipse cx="472.82" cy="435.72" rx="2.1" ry="2.2" fill="none" stroke="#333" stroke-width="0.8"/>
<ellipse cx="474.76" cy="434.64" rx="2.1" ry="2.2" fill="none" stroke="#333" stroke-width="0.8"/>
<ellipse cx="475.69" cy="432.56" rx="2.1" ry="2.2" fill="none" stroke="#333" stroke-width="0.8"/>
<ellipse cx="477.62" cy="431.48" rx="2.1" ry="2.2" fill="none" stroke="#333" stroke-width="0.8"/>
<ellipse cx="478.56" cy="429.4" rx="2.1" ry="2.2" fill="none" stroke="#333" stroke-width="0.8"/>
<ellipse cx="480.49" cy="428.32" rx="2.1" ry="2.2" fill="none" stroke="#333" stroke-width="0.8"/>
<ellipse cx="482.42" cy="427.24" rx="2.1" ry="2.2" fill="none" stroke="#333" stroke-width="0.8"/>
<ellipse cx="483.36" cy="425.16" rx="2.1" ry="2.2" fill="none" stroke="#333" stroke-width="0.8"/>
<ellipse cx="485.29" cy="424.08" rx="2.1" ry="2.2" fill="none" stroke="#333" stroke-width="0.8"/>
<ellipse cx="486.23" cy="422" rx="2.1" ry="2.2" fill="none" stroke="#333" stroke-width="0.8"/>
<ellipse cx="488.16" cy="420.92" rx="2.1" ry="2.2" fill="none" stroke="#333" stroke-width="0.8"/>
<ellipse cx="490.09" cy="419.84" rx="2.1" ry="2.2" fill="none" stroke="#333" stroke-width="0.8"/>
<ellipse cx="491.03" cy="417.76" rx="2.1" ry="2.2" fill="none" stroke="#333" stroke-width="0.8"/>
<ellipse cx="492.96" cy="416.68" rx="2.1" ry="2.2" fill="none" stroke="#333" stroke-width="0.8"/>
<ellipse cx="493.89" cy="414.6" rx="2.1" ry="2.2" fill="none" stroke="#333" stroke-width="0.8"/>
<ellipse cx="495.83" cy="413.52" rx="2.1" ry="2.2" fill="none" stroke="#333" stroke-width="0.8"/>
<ellipse cx="497.76" cy="412.43" rx="2.1" ry="2.2" fill="none" stroke="#333" stroke-width="0.8"/>
<ellipse cx="498.69" cy="410.35" rx="2.1" ry="2.2" fill="none" stroke="#333" stroke-width="0.8"/>
<ellipse cx="500.63" cy="409.27" rx="2.1" ry="2.2" fill="none" stroke="#333" stroke-width="0.8"/>
<ellipse cx="501.56" cy="407.19" rx="2.1" ry="2.2" fill="none" stroke="#333" stroke-width="0.8"/>
<ellipse cx="503.49" cy="406.11" rx="2.1" ry="2.2" fill="none" stroke="#333" stroke-width="0.8"/>
<ellipse cx="505.43" cy="405.03" rx="2.1" ry="2.2" fill="none" stroke="#333" stroke-width="0.8"/>
<ellipse cx="506.36" cy="402.95" rx="2.1" ry="2.2" fill="none" stroke="#333" stroke-width="0.8"/>
<ellipse cx="508.29" cy="401.87" rx="2.1" ry="2.2" fill="none" stroke="#333" stroke-width="0.8"/>
<ellipse cx="509.23" cy="399.79" rx="2.1" ry="2.2" fill="none" stroke="#333" stroke-width="0.8"/>
<ellipse cx="511.16" cy="398.71" rx="2.1" ry="2.2" fill="none" stroke="#333" stroke-width="0.8"/>
<ellipse cx="511.56" cy="399.11" rx="2.1" ry="2.2" fill="none" stroke="#333" stroke-width="0.8"/>
<ellipse cx="511.34" cy="398.15" rx="2.1" ry="2.2" fill="none" stroke="#333" stroke-width="0.8"/>
<ellipse cx="512.11" cy="398.19" rx="2.1" ry="2.2" fill="none" stroke="#333" stroke-width="0.8"/>
<ellipse cx="511.88" cy="397.23" rx="2.1" ry="2.2" fill="none" stroke="#333" stroke-width="0.8"/>
<ellipse cx="512.66" cy="397.27" rx="2.1" ry="2.2" fill="none" stroke="#333" stroke-width="0.8"/>
<ellipse cx="513.43" cy="397.3" rx="2.1" ry="2.2" fill="none" stroke="#333" stroke-width="0.8"/>
<ellipse cx="513.2" cy="396.34" rx="2.1" ry="2.2" fill="none" stroke="#333" stroke-width="0.8"/>
<ellipse cx="513.98" cy="396.38" rx="2.1" ry="2.2" fill="none" stroke="#333" stroke-width="0.8"/>
<ellipse cx="513.75" cy="395.42" rx="2.1" ry="2.2" fill="none" stroke="#333" stroke-width="0.8"/>
<ellipse cx="514.53" cy="395.46" rx="2.1" ry="2.2" fill="none" stroke="#333" stroke-width="0.8"/>
<ellipse cx="515.3" cy="395.5" rx="2.1" ry="2.2" fill="none" stroke="#333" stroke-width="0.8"/>
<text x="424.5" y="389.5" font-size="8.8" fill="#111" font-weight="bold" textLength="52" lengthAdjust="spacingAndGlyphs">Training: R=1</text>
<text x="451.9" y="534.4" font-size="9.4" fill="#111" font-weight="bold" text-anchor="middle" textLength="25.8" lengthAdjust="spacingAndGlyphs">Target</text>
<text transform="translate(365.8 512.9) rotate(-90)" font-size="8.6" fill="#111" font-weight="bold" textLength="112" lengthAdjust="spacingAndGlyphs">Output ~= 1*Target + 0.00067</text>
<rect x="393.6" y="399.4" width="48.6" height="30.8" fill="#fff" stroke="#444" stroke-width="0.9" />
<circle cx="409.3" cy="405.1" r="2.1" fill="none" stroke="#333" stroke-width="0.8"/>
<text x="422" y="407.8" font-size="7.4" fill="#333" textLength="14.3" lengthAdjust="spacingAndGlyphs">Data</text>
<line x1="398.1" y1="415" x2="420" y2="415" stroke="#3030e0" stroke-width="1.4" />
<text x="422" y="417.3" font-size="7.4" fill="#333" textLength="8" lengthAdjust="spacingAndGlyphs">Fit</text>
<line x1="398.1" y1="423.7" x2="420" y2="423.7" stroke="#888" stroke-width="0.8" stroke-dasharray="1 1.3"/>
<text x="422" y="426.8" font-size="7.4" fill="#333" textLength="17" lengthAdjust="spacingAndGlyphs">Y = T</text>
<rect x="556.5" y="395" width="124.2" height="119.9" fill="none" stroke="#444" stroke-width="1.1" />
<line x1="577.73" y1="514.9" x2="577.73" y2="512.4" stroke="#444" stroke-width="0.9" />
<line x1="577.73" y1="395" x2="577.73" y2="397.5" stroke="#444" stroke-width="0.9" />
<line x1="556.5" y1="494.4" x2="559" y2="494.4" stroke="#444" stroke-width="0.9" />
<line x1="680.7" y1="494.4" x2="678.2" y2="494.4" stroke="#444" stroke-width="0.9" />
<line x1="598.96" y1="514.9" x2="598.96" y2="512.4" stroke="#444" stroke-width="0.9" />
<line x1="598.96" y1="395" x2="598.96" y2="397.5" stroke="#444" stroke-width="0.9" />
<line x1="556.5" y1="473.91" x2="559" y2="473.91" stroke="#444" stroke-width="0.9" />
<line x1="680.7" y1="473.91" x2="678.2" y2="473.91" stroke="#444" stroke-width="0.9" />
<line x1="620.19" y1="514.9" x2="620.19" y2="512.4" stroke="#444" stroke-width="0.9" />
<line x1="620.19" y1="395" x2="620.19" y2="397.5" stroke="#444" stroke-width="0.9" />
<line x1="556.5" y1="453.41" x2="559" y2="453.41" stroke="#444" stroke-width="0.9" />
<line x1="680.7" y1="453.41" x2="678.2" y2="453.41" stroke="#444" stroke-width="0.9" />
<line x1="641.42" y1="514.9" x2="641.42" y2="512.4" stroke="#444" stroke-width="0.9" />
<line x1="641.42" y1="395" x2="641.42" y2="397.5" stroke="#444" stroke-width="0.9" />
<line x1="556.5" y1="432.92" x2="559" y2="432.92" stroke="#444" stroke-width="0.9" />
<line x1="680.7" y1="432.92" x2="678.2" y2="432.92" stroke="#444" stroke-width="0.9" />
<line x1="662.65" y1="514.9" x2="662.65" y2="512.4" stroke="#444" stroke-width="0.9" />
<line x1="662.65" y1="395" x2="662.65" y2="397.5" stroke="#444" stroke-width="0.9" />
<line x1="556.5" y1="412.42" x2="559" y2="412.42" stroke="#444" stroke-width="0.9" />
<line x1="680.7" y1="412.42" x2="678.2" y2="412.42" stroke="#444" stroke-width="0.9" />
<text x="553.7" y="496.8" font-size="7.2" fill="#444" text-anchor="end" textLength="17" lengthAdjust="spacingAndGlyphs">0.302</text>
<text x="577.23" y="523.9" font-size="7.2" fill="#444" text-anchor="middle" textLength="17" lengthAdjust="spacingAndGlyphs">0.302</text>
<text x="553.7" y="476.31" font-size="7.2" fill="#444" text-anchor="end" textLength="17" lengthAdjust="spacingAndGlyphs">0.304</text>
<text x="598.46" y="523.9" font-size="7.2" fill="#444" text-anchor="middle" textLength="17" lengthAdjust="spacingAndGlyphs">0.304</text>
<text x="553.7" y="455.81" font-size="7.2" fill="#444" text-anchor="end" textLength="17" lengthAdjust="spacingAndGlyphs">0.306</text>
<text x="619.69" y="523.9" font-size="7.2" fill="#444" text-anchor="middle" textLength="17" lengthAdjust="spacingAndGlyphs">0.306</text>
<text x="553.7" y="435.32" font-size="7.2" fill="#444" text-anchor="end" textLength="17" lengthAdjust="spacingAndGlyphs">0.308</text>
<text x="640.92" y="523.9" font-size="7.2" fill="#444" text-anchor="middle" textLength="17" lengthAdjust="spacingAndGlyphs">0.308</text>
<text x="553.7" y="414.82" font-size="7.2" fill="#444" text-anchor="end" textLength="13" lengthAdjust="spacingAndGlyphs">0.31</text>
<text x="662.15" y="523.9" font-size="7.2" fill="#444" text-anchor="middle" textLength="13" lengthAdjust="spacingAndGlyphs">0.31</text>
<line x1="556.5" y1="514.9" x2="680.7" y2="395" stroke="#888" stroke-width="0.8" stroke-dasharray="1 1.5"/>
<line x1="556.5" y1="514.9" x2="680.7" y2="395" stroke="#20dd20" stroke-width="1.1" />
<ellipse cx="564.55" cy="506.35" rx="2.1" ry="2.2" fill="none" stroke="#333" stroke-width="0.8"/>
<ellipse cx="577.24" cy="494.88" rx="2.1" ry="2.2" fill="none" stroke="#333" stroke-width="0.8"/>
<ellipse cx="604.97" cy="468.9" rx="2.1" ry="2.2" fill="none" stroke="#333" stroke-width="0.8"/>
<ellipse cx="604.99" cy="467.7" rx="2.1" ry="2.2" fill="none" stroke="#333" stroke-width="0.8"/>
<ellipse cx="618.05" cy="455.87" rx="2.1" ry="2.2" fill="none" stroke="#333" stroke-width="0.8"/>
<ellipse cx="626.65" cy="446.4" rx="2.1" ry="2.2" fill="none" stroke="#333" stroke-width="0.8"/>
<ellipse cx="635.49" cy="438.64" rx="2.1" ry="2.2" fill="none" stroke="#333" stroke-width="0.8"/>
<ellipse cx="642.23" cy="432.93" rx="2.1" ry="2.2" fill="none" stroke="#333" stroke-width="0.8"/>
<ellipse cx="647.84" cy="426.33" rx="2.1" ry="2.2" fill="none" stroke="#333" stroke-width="0.8"/>
<ellipse cx="655.69" cy="419.54" rx="2.1" ry="2.2" fill="none" stroke="#333" stroke-width="0.8"/>
<ellipse cx="663.41" cy="410.91" rx="2.1" ry="2.2" fill="none" stroke="#333" stroke-width="0.8"/>
<ellipse cx="668.9" cy="406.39" rx="2.1" ry="2.2" fill="none" stroke="#333" stroke-width="0.8"/>
<ellipse cx="677.75" cy="398.64" rx="2.1" ry="2.2" fill="none" stroke="#333" stroke-width="0.8"/>
<ellipse cx="679.75" cy="395.52" rx="2.1" ry="2.2" fill="none" stroke="#333" stroke-width="0.8"/>
<text x="573.8" y="389.4" font-size="8.8" fill="#111" font-weight="bold" textLength="88" lengthAdjust="spacingAndGlyphs">Validation: R=0.99999</text>
<text x="617.9" y="533.9" font-size="9.4" fill="#111" font-weight="bold" text-anchor="middle" textLength="25.8" lengthAdjust="spacingAndGlyphs">Target</text>
<text transform="translate(532 512.4) rotate(-90)" font-size="8.6" fill="#111" font-weight="bold" textLength="112" lengthAdjust="spacingAndGlyphs">Output ~= 1*Target + 0.00055</text>
<rect x="559.8" y="399.3" width="48.6" height="30.8" fill="#fff" stroke="#444" stroke-width="0.9" />
<circle cx="575.5" cy="405" r="2.1" fill="none" stroke="#333" stroke-width="0.8"/>
<text x="588.2" y="407.7" font-size="7.4" fill="#333" textLength="14.3" lengthAdjust="spacingAndGlyphs">Data</text>
<line x1="564.3" y1="414.9" x2="586.2" y2="414.9" stroke="#20dd20" stroke-width="1.4" />
<text x="588.2" y="417.2" font-size="7.4" fill="#333" textLength="8" lengthAdjust="spacingAndGlyphs">Fit</text>
<line x1="564.3" y1="423.6" x2="586.2" y2="423.6" stroke="#888" stroke-width="0.8" stroke-dasharray="1 1.3"/>
<text x="588.2" y="426.7" font-size="7.4" fill="#333" textLength="17" lengthAdjust="spacingAndGlyphs">Y = T</text>
<rect x="390.5" y="567.3" width="124.4" height="119.9" fill="none" stroke="#444" stroke-width="1.1" />
<line x1="411.76" y1="687.2" x2="411.76" y2="684.7" stroke="#444" stroke-width="0.9" />
<line x1="411.76" y1="567.3" x2="411.76" y2="569.8" stroke="#444" stroke-width="0.9" />
<line x1="390.5" y1="666.7" x2="393" y2="666.7" stroke="#444" stroke-width="0.9" />
<line x1="514.9" y1="666.7" x2="512.4" y2="666.7" stroke="#444" stroke-width="0.9" />
<line x1="433.03" y1="687.2" x2="433.03" y2="684.7" stroke="#444" stroke-width="0.9" />
<line x1="433.03" y1="567.3" x2="433.03" y2="569.8" stroke="#444" stroke-width="0.9" />
<line x1="390.5" y1="646.21" x2="393" y2="646.21" stroke="#444" stroke-width="0.9" />
<line x1="514.9" y1="646.21" x2="512.4" y2="646.21" stroke="#444" stroke-width="0.9" />
<line x1="454.29" y1="687.2" x2="454.29" y2="684.7" stroke="#444" stroke-width="0.9" />
<line x1="454.29" y1="567.3" x2="454.29" y2="569.8" stroke="#444" stroke-width="0.9" />
<line x1="390.5" y1="625.71" x2="393" y2="625.71" stroke="#444" stroke-width="0.9" />
<line x1="514.9" y1="625.71" x2="512.4" y2="625.71" stroke="#444" stroke-width="0.9" />
<line x1="475.56" y1="687.2" x2="475.56" y2="684.7" stroke="#444" stroke-width="0.9" />
<line x1="475.56" y1="567.3" x2="475.56" y2="569.8" stroke="#444" stroke-width="0.9" />
<line x1="390.5" y1="605.22" x2="393" y2="605.22" stroke="#444" stroke-width="0.9" />
<line x1="514.9" y1="605.22" x2="512.4" y2="605.22" stroke="#444" stroke-width="0.9" />
<line x1="496.82" y1="687.2" x2="496.82" y2="684.7" stroke="#444" stroke-width="0.9" />
<line x1="496.82" y1="567.3" x2="496.82" y2="569.8" stroke="#444" stroke-width="0.9" />
<line x1="390.5" y1="584.72" x2="393" y2="584.72" stroke="#444" stroke-width="0.9" />
<line x1="514.9" y1="584.72" x2="512.4" y2="584.72" stroke="#444" stroke-width="0.9" />
<text x="387.7" y="669.1" font-size="7.2" fill="#444" text-anchor="end" textLength="17" lengthAdjust="spacingAndGlyphs">0.302</text>
<text x="411.26" y="696.2" font-size="7.2" fill="#444" text-anchor="middle" textLength="17" lengthAdjust="spacingAndGlyphs">0.302</text>
<text x="387.7" y="648.61" font-size="7.2" fill="#444" text-anchor="end" textLength="17" lengthAdjust="spacingAndGlyphs">0.304</text>
<text x="432.53" y="696.2" font-size="7.2" fill="#444" text-anchor="middle" textLength="17" lengthAdjust="spacingAndGlyphs">0.304</text>
<text x="387.7" y="628.11" font-size="7.2" fill="#444" text-anchor="end" textLength="17" lengthAdjust="spacingAndGlyphs">0.306</text>
<text x="453.79" y="696.2" font-size="7.2" fill="#444" text-anchor="middle" textLength="17" lengthAdjust="spacingAndGlyphs">0.306</text>
<text x="387.7" y="607.62" font-size="7.2" fill="#444" text-anchor="end" textLength="17" lengthAdjust="spacingAndGlyphs">0.308</text>
<text x="475.06" y="696.2" font-size="7.2" fill="#444" text-anchor="middle" textLength="17" lengthAdjust="spacingAndGlyphs">0.308</text>
<text x="387.7" y="587.12" font-size="7.2" fill="#444" text-anchor="end" textLength="13" lengthAdjust="spacingAndGlyphs">0.31</text>
<text x="496.32" y="696.2" font-size="7.2" fill="#444" text-anchor="middle" textLength="13" lengthAdjust="spacingAndGlyphs">0.31</text>
<line x1="390.5" y1="687.2" x2="514.9" y2="567.3" stroke="#888" stroke-width="0.8" stroke-dasharray="1 1.5"/>
<line x1="390.5" y1="687.2" x2="514.9" y2="567.3" stroke="#dd2020" stroke-width="1.1" />
<ellipse cx="403.41" cy="673.97" rx="2.1" ry="2.2" fill="none" stroke="#333" stroke-width="0.8"/>
<ellipse cx="407.67" cy="670.65" rx="2.1" ry="2.2" fill="none" stroke="#333" stroke-width="0.8"/>
<ellipse cx="413.42" cy="665.9" rx="2.1" ry="2.2" fill="none" stroke="#333" stroke-width="0.8"/>
<ellipse cx="423.27" cy="655.23" rx="2.1" ry="2.2" fill="none" stroke="#333" stroke-width="0.8"/>
<ellipse cx="447.43" cy="632.73" rx="2.1" ry="2.2" fill="none" stroke="#333" stroke-width="0.8"/>
<ellipse cx="454.54" cy="624.69" rx="2.1" ry="2.2" fill="none" stroke="#333" stroke-width="0.8"/>
<ellipse cx="466.88" cy="613.58" rx="2.1" ry="2.2" fill="none" stroke="#333" stroke-width="0.8"/>
<ellipse cx="479.47" cy="602.23" rx="2.1" ry="2.2" fill="none" stroke="#333" stroke-width="0.8"/>
<ellipse cx="484.6" cy="596.12" rx="2.1" ry="2.2" fill="none" stroke="#333" stroke-width="0.8"/>
<ellipse cx="491.34" cy="590.4" rx="2.1" ry="2.2" fill="none" stroke="#333" stroke-width="0.8"/>
<ellipse cx="499.95" cy="580.93" rx="2.1" ry="2.2" fill="none" stroke="#333" stroke-width="0.8"/>
<ellipse cx="507.06" cy="574.85" rx="2.1" ry="2.2" fill="none" stroke="#333" stroke-width="0.8"/>
<ellipse cx="508.46" cy="574.29" rx="2.1" ry="2.2" fill="none" stroke="#333" stroke-width="0.8"/>
<ellipse cx="512.96" cy="568.78" rx="2.1" ry="2.2" fill="none" stroke="#333" stroke-width="0.8"/>
<text x="419.5" y="561.7" font-size="8.8" fill="#111" font-weight="bold" textLength="65" lengthAdjust="spacingAndGlyphs">Test: R=0.99999</text>
<text x="452" y="706.2" font-size="9.4" fill="#111" font-weight="bold" text-anchor="middle" textLength="25.8" lengthAdjust="spacingAndGlyphs">Target</text>
<text transform="translate(366 684.7) rotate(-90)" font-size="8.6" fill="#111" font-weight="bold" textLength="112" lengthAdjust="spacingAndGlyphs">Output ~= 1*Target + 0.0009</text>
<rect x="393.8" y="571.6" width="48.6" height="30.8" fill="#fff" stroke="#444" stroke-width="0.9" />
<circle cx="409.5" cy="577.3" r="2.1" fill="none" stroke="#333" stroke-width="0.8"/>
<text x="422.2" y="580" font-size="7.4" fill="#333" textLength="14.3" lengthAdjust="spacingAndGlyphs">Data</text>
<line x1="398.3" y1="587.2" x2="420.2" y2="587.2" stroke="#dd2020" stroke-width="1.4" />
<text x="422.2" y="589.5" font-size="7.4" fill="#333" textLength="8" lengthAdjust="spacingAndGlyphs">Fit</text>
<line x1="398.3" y1="595.9" x2="420.2" y2="595.9" stroke="#888" stroke-width="0.8" stroke-dasharray="1 1.3"/>
<text x="422.2" y="599" font-size="7.4" fill="#333" textLength="17" lengthAdjust="spacingAndGlyphs">Y = T</text>
<rect x="556.8" y="567.3" width="123.9" height="120.4" fill="none" stroke="#444" stroke-width="1.1" />
<line x1="577.98" y1="687.7" x2="577.98" y2="685.2" stroke="#444" stroke-width="0.9" />
<line x1="577.98" y1="567.3" x2="577.98" y2="569.8" stroke="#444" stroke-width="0.9" />
<line x1="556.8" y1="667.12" x2="559.3" y2="667.12" stroke="#444" stroke-width="0.9" />
<line x1="680.7" y1="667.12" x2="678.2" y2="667.12" stroke="#444" stroke-width="0.9" />
<line x1="599.16" y1="687.7" x2="599.16" y2="685.2" stroke="#444" stroke-width="0.9" />
<line x1="599.16" y1="567.3" x2="599.16" y2="569.8" stroke="#444" stroke-width="0.9" />
<line x1="556.8" y1="646.54" x2="559.3" y2="646.54" stroke="#444" stroke-width="0.9" />
<line x1="680.7" y1="646.54" x2="678.2" y2="646.54" stroke="#444" stroke-width="0.9" />
<line x1="620.34" y1="687.7" x2="620.34" y2="685.2" stroke="#444" stroke-width="0.9" />
<line x1="620.34" y1="567.3" x2="620.34" y2="569.8" stroke="#444" stroke-width="0.9" />
<line x1="556.8" y1="625.96" x2="559.3" y2="625.96" stroke="#444" stroke-width="0.9" />
<line x1="680.7" y1="625.96" x2="678.2" y2="625.96" stroke="#444" stroke-width="0.9" />
<line x1="641.52" y1="687.7" x2="641.52" y2="685.2" stroke="#444" stroke-width="0.9" />
<line x1="641.52" y1="567.3" x2="641.52" y2="569.8" stroke="#444" stroke-width="0.9" />
<line x1="556.8" y1="605.38" x2="559.3" y2="605.38" stroke="#444" stroke-width="0.9" />
<line x1="680.7" y1="605.38" x2="678.2" y2="605.38" stroke="#444" stroke-width="0.9" />
<line x1="662.7" y1="687.7" x2="662.7" y2="685.2" stroke="#444" stroke-width="0.9" />
<line x1="662.7" y1="567.3" x2="662.7" y2="569.8" stroke="#444" stroke-width="0.9" />
<line x1="556.8" y1="584.79" x2="559.3" y2="584.79" stroke="#444" stroke-width="0.9" />
<line x1="680.7" y1="584.79" x2="678.2" y2="584.79" stroke="#444" stroke-width="0.9" />
<text x="554" y="669.52" font-size="7.2" fill="#444" text-anchor="end" textLength="17" lengthAdjust="spacingAndGlyphs">0.302</text>
<text x="577.48" y="696.7" font-size="7.2" fill="#444" text-anchor="middle" textLength="17" lengthAdjust="spacingAndGlyphs">0.302</text>
<text x="554" y="648.94" font-size="7.2" fill="#444" text-anchor="end" textLength="17" lengthAdjust="spacingAndGlyphs">0.304</text>
<text x="598.66" y="696.7" font-size="7.2" fill="#444" text-anchor="middle" textLength="17" lengthAdjust="spacingAndGlyphs">0.304</text>
<text x="554" y="628.36" font-size="7.2" fill="#444" text-anchor="end" textLength="17" lengthAdjust="spacingAndGlyphs">0.306</text>
<text x="619.84" y="696.7" font-size="7.2" fill="#444" text-anchor="middle" textLength="17" lengthAdjust="spacingAndGlyphs">0.306</text>
<text x="554" y="607.78" font-size="7.2" fill="#444" text-anchor="end" textLength="17" lengthAdjust="spacingAndGlyphs">0.308</text>
<text x="641.02" y="696.7" font-size="7.2" fill="#444" text-anchor="middle" textLength="17" lengthAdjust="spacingAndGlyphs">0.308</text>
<text x="554" y="587.19" font-size="7.2" fill="#444" text-anchor="end" textLength="13" lengthAdjust="spacingAndGlyphs">0.31</text>
<text x="662.2" y="696.7" font-size="7.2" fill="#444" text-anchor="middle" textLength="13" lengthAdjust="spacingAndGlyphs">0.31</text>
<text x="554" y="690.1" font-size="7.2" fill="#444" text-anchor="end" textLength="10" lengthAdjust="spacingAndGlyphs">0.3</text>
<text x="556.5" y="696.7" font-size="7.2" fill="#444" text-anchor="middle" textLength="10" lengthAdjust="spacingAndGlyphs">0.3</text>
<line x1="556.8" y1="687.7" x2="680.7" y2="567.3" stroke="#888" stroke-width="0.8" stroke-dasharray="1 1.5"/>
<line x1="556.8" y1="687.7" x2="680.7" y2="567.3" stroke="#555555" stroke-width="0.8" />
<ellipse cx="556.4" cy="687.3" rx="2.1" ry="2.2" fill="none" stroke="#444" stroke-width="0.8"/>
<ellipse cx="558.66" cy="685.89" rx="2.1" ry="2.2" fill="none" stroke="#444" stroke-width="0.8"/>
<ellipse cx="562.65" cy="682.8" rx="2.1" ry="2.2" fill="none" stroke="#444" stroke-width="0.8"/>
<ellipse cx="565.03" cy="679.31" rx="2.1" ry="2.2" fill="none" stroke="#444" stroke-width="0.8"/>
<ellipse cx="568.77" cy="676.46" rx="2.1" ry="2.2" fill="none" stroke="#444" stroke-width="0.8"/>
<ellipse cx="569.66" cy="674.42" rx="2.1" ry="2.2" fill="none" stroke="#444" stroke-width="0.8"/>
<ellipse cx="573.9" cy="671.08" rx="2.1" ry="2.2" fill="none" stroke="#444" stroke-width="0.8"/>
<ellipse cx="574.79" cy="671" rx="2.1" ry="2.2" fill="none" stroke="#444" stroke-width="0.8"/>
<ellipse cx="577.29" cy="667.39" rx="2.1" ry="2.2" fill="none" stroke="#444" stroke-width="0.8"/>
<ellipse cx="579.43" cy="666.11" rx="2.1" ry="2.2" fill="none" stroke="#444" stroke-width="0.8"/>
<ellipse cx="581.68" cy="662.74" rx="2.1" ry="2.2" fill="none" stroke="#444" stroke-width="0.8"/>
<ellipse cx="584.8" cy="660.49" rx="2.1" ry="2.2" fill="none" stroke="#444" stroke-width="0.8"/>
<ellipse cx="590.03" cy="656.19" rx="2.1" ry="2.2" fill="none" stroke="#444" stroke-width="0.8"/>
<ellipse cx="590.05" cy="654.99" rx="2.1" ry="2.2" fill="none" stroke="#444" stroke-width="0.8"/>
<ellipse cx="594.17" cy="651.78" rx="2.1" ry="2.2" fill="none" stroke="#444" stroke-width="0.8"/>
<ellipse cx="595.3" cy="649.49" rx="2.1" ry="2.2" fill="none" stroke="#444" stroke-width="0.8"/>
<ellipse cx="600.16" cy="645.56" rx="2.1" ry="2.2" fill="none" stroke="#444" stroke-width="0.8"/>
<ellipse cx="605.15" cy="641.51" rx="2.1" ry="2.2" fill="none" stroke="#444" stroke-width="0.8"/>
<ellipse cx="605.17" cy="640.3" rx="2.1" ry="2.2" fill="none" stroke="#444" stroke-width="0.8"/>
<ellipse cx="608.54" cy="637.81" rx="2.1" ry="2.2" fill="none" stroke="#444" stroke-width="0.8"/>
<ellipse cx="609.68" cy="635.53" rx="2.1" ry="2.2" fill="none" stroke="#444" stroke-width="0.8"/>
<ellipse cx="612.93" cy="633.16" rx="2.1" ry="2.2" fill="none" stroke="#444" stroke-width="0.8"/>
<ellipse cx="613.7" cy="633.2" rx="2.1" ry="2.2" fill="none" stroke="#444" stroke-width="0.8"/>
<ellipse cx="616.32" cy="629.47" rx="2.1" ry="2.2" fill="none" stroke="#444" stroke-width="0.8"/>
<ellipse cx="618.21" cy="628.42" rx="2.1" ry="2.2" fill="none" stroke="#444" stroke-width="0.8"/>
<ellipse cx="620.58" cy="624.93" rx="2.1" ry="2.2" fill="none" stroke="#444" stroke-width="0.8"/>
<ellipse cx="620.98" cy="625.33" rx="2.1" ry="2.2" fill="none" stroke="#444" stroke-width="0.8"/>
<ellipse cx="624.97" cy="622.24" rx="2.1" ry="2.2" fill="none" stroke="#444" stroke-width="0.8"/>
<ellipse cx="626.98" cy="619.11" rx="2.1" ry="2.2" fill="none" stroke="#444" stroke-width="0.8"/>
<ellipse cx="628.49" cy="618.43" rx="2.1" ry="2.2" fill="none" stroke="#444" stroke-width="0.8"/>
<ellipse cx="630.62" cy="615.18" rx="2.1" ry="2.2" fill="none" stroke="#444" stroke-width="0.8"/>
<ellipse cx="632.75" cy="613.89" rx="2.1" ry="2.2" fill="none" stroke="#444" stroke-width="0.8"/>
<ellipse cx="633.27" cy="614.17" rx="2.1" ry="2.2" fill="none" stroke="#444" stroke-width="0.8"/>
<ellipse cx="635.4" cy="610.93" rx="2.1" ry="2.2" fill="none" stroke="#444" stroke-width="0.8"/>
<ellipse cx="637.54" cy="609.64" rx="2.1" ry="2.2" fill="none" stroke="#444" stroke-width="0.8"/>
<ellipse cx="638.46" cy="607.56" rx="2.1" ry="2.2" fill="none" stroke="#444" stroke-width="0.8"/>
<ellipse cx="640.38" cy="606.48" rx="2.1" ry="2.2" fill="none" stroke="#444" stroke-width="0.8"/>
<ellipse cx="642.31" cy="605.39" rx="2.1" ry="2.2" fill="none" stroke="#444" stroke-width="0.8"/>
<ellipse cx="641.72" cy="604.79" rx="2.1" ry="2.2" fill="none" stroke="#444" stroke-width="0.8"/>
<ellipse cx="643.63" cy="603.71" rx="2.1" ry="2.2" fill="none" stroke="#444" stroke-width="0.8"/>
<ellipse cx="644.56" cy="601.63" rx="2.1" ry="2.2" fill="none" stroke="#444" stroke-width="0.8"/>
<ellipse cx="645.02" cy="601.98" rx="2.1" ry="2.2" fill="none" stroke="#444" stroke-width="0.8"/>
<ellipse cx="646.88" cy="600.95" rx="2.1" ry="2.2" fill="none" stroke="#444" stroke-width="0.8"/>
<ellipse cx="647.81" cy="598.87" rx="2.1" ry="2.2" fill="none" stroke="#444" stroke-width="0.8"/>
<ellipse cx="648.31" cy="599.17" rx="2.1" ry="2.2" fill="none" stroke="#444" stroke-width="0.8"/>
<ellipse cx="649.13" cy="597.19" rx="2.1" ry="2.2" fill="none" stroke="#444" stroke-width="0.8"/>
<ellipse cx="650.72" cy="596.44" rx="2.1" ry="2.2" fill="none" stroke="#444" stroke-width="0.8"/>
<ellipse cx="651.46" cy="596.5" rx="2.1" ry="2.2" fill="none" stroke="#444" stroke-width="0.8"/>
<ellipse cx="652.38" cy="594.42" rx="2.1" ry="2.2" fill="none" stroke="#444" stroke-width="0.8"/>
<ellipse cx="654.31" cy="593.34" rx="2.1" ry="2.2" fill="none" stroke="#444" stroke-width="0.8"/>
<ellipse cx="655.15" cy="591.34" rx="2.1" ry="2.2" fill="none" stroke="#444" stroke-width="0.8"/>
<ellipse cx="655.63" cy="591.66" rx="2.1" ry="2.2" fill="none" stroke="#444" stroke-width="0.8"/>
<ellipse cx="657.44" cy="590.7" rx="2.1" ry="2.2" fill="none" stroke="#444" stroke-width="0.8"/>
<ellipse cx="656.96" cy="589.98" rx="2.1" ry="2.2" fill="none" stroke="#444" stroke-width="0.8"/>
<ellipse cx="658.88" cy="588.89" rx="2.1" ry="2.2" fill="none" stroke="#444" stroke-width="0.8"/>
<ellipse cx="659.81" cy="586.81" rx="2.1" ry="2.2" fill="none" stroke="#444" stroke-width="0.8"/>
<ellipse cx="661.73" cy="585.73" rx="2.1" ry="2.2" fill="none" stroke="#444" stroke-width="0.8"/>
<ellipse cx="663.66" cy="584.65" rx="2.1" ry="2.2" fill="none" stroke="#444" stroke-width="0.8"/>
<ellipse cx="663.65" cy="583.47" rx="2.1" ry="2.2" fill="none" stroke="#444" stroke-width="0.8"/>
<ellipse cx="664.98" cy="582.97" rx="2.1" ry="2.2" fill="none" stroke="#444" stroke-width="0.8"/>
<ellipse cx="665.8" cy="580.99" rx="2.1" ry="2.2" fill="none" stroke="#444" stroke-width="0.8"/>
<ellipse cx="666.31" cy="581.28" rx="2.1" ry="2.2" fill="none" stroke="#444" stroke-width="0.8"/>
<ellipse cx="668.23" cy="580.2" rx="2.1" ry="2.2" fill="none" stroke="#444" stroke-width="0.8"/>
<ellipse cx="668.73" cy="578.54" rx="2.1" ry="2.2" fill="none" stroke="#444" stroke-width="0.8"/>
<ellipse cx="669.56" cy="578.52" rx="2.1" ry="2.2" fill="none" stroke="#444" stroke-width="0.8"/>
<ellipse cx="670.48" cy="576.44" rx="2.1" ry="2.2" fill="none" stroke="#444" stroke-width="0.8"/>
<ellipse cx="672.41" cy="575.36" rx="2.1" ry="2.2" fill="none" stroke="#444" stroke-width="0.8"/>
<ellipse cx="673.29" cy="575.29" rx="2.1" ry="2.2" fill="none" stroke="#444" stroke-width="0.8"/>
<ellipse cx="673.69" cy="573.72" rx="2.1" ry="2.2" fill="none" stroke="#444" stroke-width="0.8"/>
<ellipse cx="674.13" cy="574.08" rx="2.1" ry="2.2" fill="none" stroke="#444" stroke-width="0.8"/>
<ellipse cx="675.06" cy="571.99" rx="2.1" ry="2.2" fill="none" stroke="#444" stroke-width="0.8"/>
<ellipse cx="676.98" cy="570.91" rx="2.1" ry="2.2" fill="none" stroke="#444" stroke-width="0.8"/>
<ellipse cx="677.38" cy="571.31" rx="2.1" ry="2.2" fill="none" stroke="#444" stroke-width="0.8"/>
<ellipse cx="677.15" cy="570.35" rx="2.1" ry="2.2" fill="none" stroke="#444" stroke-width="0.8"/>
<ellipse cx="677.55" cy="570.75" rx="2.1" ry="2.2" fill="none" stroke="#444" stroke-width="0.8"/>
<ellipse cx="677.33" cy="569.79" rx="2.1" ry="2.2" fill="none" stroke="#444" stroke-width="0.8"/>
<ellipse cx="678.1" cy="569.83" rx="2.1" ry="2.2" fill="none" stroke="#444" stroke-width="0.8"/>
<ellipse cx="678.87" cy="569.87" rx="2.1" ry="2.2" fill="none" stroke="#444" stroke-width="0.8"/>
<ellipse cx="678.64" cy="568.91" rx="2.1" ry="2.2" fill="none" stroke="#444" stroke-width="0.8"/>
<ellipse cx="679.17" cy="569.19" rx="2.1" ry="2.2" fill="none" stroke="#444" stroke-width="0.8"/>
<ellipse cx="678.81" cy="568.34" rx="2.1" ry="2.2" fill="none" stroke="#444" stroke-width="0.8"/>
<ellipse cx="679.58" cy="568.38" rx="2.1" ry="2.2" fill="none" stroke="#444" stroke-width="0.8"/>
<ellipse cx="680.36" cy="568.42" rx="2.1" ry="2.2" fill="none" stroke="#444" stroke-width="0.8"/>
<ellipse cx="679.76" cy="567.82" rx="2.1" ry="2.2" fill="none" stroke="#444" stroke-width="0.8"/>
<ellipse cx="680.53" cy="567.86" rx="2.1" ry="2.2" fill="none" stroke="#444" stroke-width="0.8"/>
<ellipse cx="680.3" cy="566.9" rx="2.1" ry="2.2" fill="none" stroke="#444" stroke-width="0.8"/>
<text x="601.5" y="561.7" font-size="8.8" fill="#111" font-weight="bold" textLength="31" lengthAdjust="spacingAndGlyphs">All: R=1</text>
<text x="618.05" y="706.7" font-size="9.4" fill="#111" font-weight="bold" text-anchor="middle" textLength="25.8" lengthAdjust="spacingAndGlyphs">Target</text>
<text transform="translate(532.3 685.2) rotate(-90)" font-size="8.6" fill="#111" font-weight="bold" textLength="112" lengthAdjust="spacingAndGlyphs">Output ~= 1*Target + 0.00069</text>
<rect x="560.1" y="571.6" width="48.6" height="30.8" fill="#fff" stroke="#444" stroke-width="0.9" />
<circle cx="575.8" cy="577.3" r="2.1" fill="none" stroke="#333" stroke-width="0.8"/>
<text x="588.5" y="580" font-size="7.4" fill="#333" textLength="14.3" lengthAdjust="spacingAndGlyphs">Data</text>
<line x1="564.6" y1="587.2" x2="586.5" y2="587.2" stroke="#555555" stroke-width="0.9" />
<text x="588.5" y="589.5" font-size="7.4" fill="#333" textLength="8" lengthAdjust="spacingAndGlyphs">Fit</text>
<line x1="564.6" y1="595.9" x2="586.5" y2="595.9" stroke="#888" stroke-width="0.8" stroke-dasharray="1 1.3"/>
<text x="588.5" y="599" font-size="7.4" fill="#333" textLength="17" lengthAdjust="spacingAndGlyphs">Y = T</text>
<text x="17.8" y="351.8" font-family="Liberation Serif" font-size="16" fill="#111" textLength="279.6" lengthAdjust="spacingAndGlyphs"><tspan font-weight="bold">(a)</tspan> MSE outcomes for scenario 4: case 5</text>
<text x="368.2" y="352.6" font-family="Liberation Serif" font-size="16" fill="#111" textLength="278.7" lengthAdjust="spacingAndGlyphs"><tspan font-weight="bold">(b)</tspan> State transition for scenario 4: case 5</text>
<text x="15.9" y="739.6" font-family="Liberation Serif" font-size="16" fill="#111" textLength="283.1" lengthAdjust="spacingAndGlyphs"><tspan font-weight="bold">(c)</tspan> Error histogram for scenario 4: case 5</text>
<text x="357" y="738.9" font-family="Liberation Serif" font-size="16" fill="#111" textLength="300.8" lengthAdjust="spacingAndGlyphs"><tspan font-weight="bold">(d)</tspan> Regression results for scenario 4: case 5</text>
</svg>
</body></html>
